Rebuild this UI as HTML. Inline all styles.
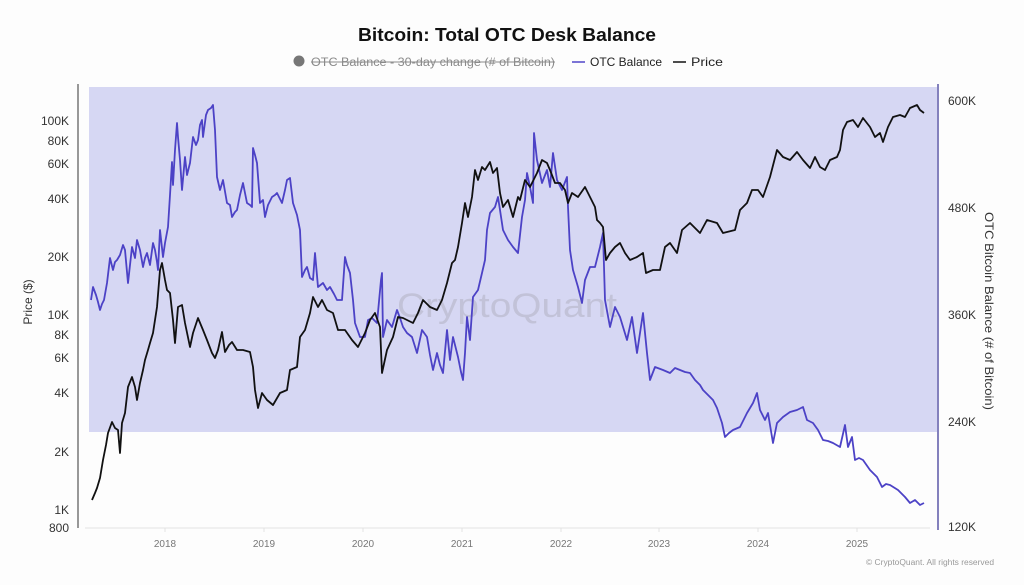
<!DOCTYPE html>
<html>
<head>
<meta charset="utf-8">
<style>
html,body{margin:0;padding:0;background:#fdfdfd;}
svg{display:block;}
text{font-family:"Liberation Sans",Arial,sans-serif;}
</style>
</head>
<body>
<svg width="1024" height="585" viewBox="0 0 1024 585" xmlns="http://www.w3.org/2000/svg">
<rect x="0" y="0" width="1024" height="585" fill="#fdfdfd"/>
<!-- title -->
<text x="507" y="41" font-size="18" font-weight="bold" text-anchor="middle" fill="#111" textLength="298" lengthAdjust="spacingAndGlyphs">Bitcoin: Total OTC Desk Balance</text>
<!-- legend -->
<circle cx="299" cy="61" r="5.5" fill="#777"/>
<text x="311" y="66" font-size="12" fill="#8a8a8a" textLength="244" lengthAdjust="spacingAndGlyphs">OTC Balance - 30-day change (# of Bitcoin)</text>
<line x1="311" y1="62" x2="555" y2="62" stroke="#8a8a8a" stroke-width="1"/>
<line x1="572" y1="62" x2="585" y2="62" stroke="#5046c8" stroke-width="1.5"/>
<text x="590" y="66" font-size="12" fill="#222" textLength="72" lengthAdjust="spacingAndGlyphs">OTC Balance</text>
<line x1="673" y1="62" x2="686" y2="62" stroke="#111" stroke-width="1.5"/>
<text x="691" y="66" font-size="12" fill="#222" textLength="32" lengthAdjust="spacingAndGlyphs">Price</text>

<!-- shaded region -->
<rect x="89" y="87" width="848" height="345" fill="#d6d7f3"/>

<!-- watermark -->
<text x="507" y="317" font-size="34" text-anchor="middle" fill="#b9b9cc" fill-opacity="0.7" textLength="220" lengthAdjust="spacingAndGlyphs">CryptoQuant</text>

<!-- x axis -->
<line x1="85" y1="528" x2="930" y2="528" stroke="#e2e2e2" stroke-width="1"/>
<g stroke="#e2e2e2" stroke-width="1">
<line x1="165" y1="528" x2="165" y2="532"/>
<line x1="264" y1="528" x2="264" y2="532"/>
<line x1="363" y1="528" x2="363" y2="532"/>
<line x1="462" y1="528" x2="462" y2="532"/>
<line x1="561" y1="528" x2="561" y2="532"/>
<line x1="659" y1="528" x2="659" y2="532"/>
<line x1="758" y1="528" x2="758" y2="532"/>
<line x1="857" y1="528" x2="857" y2="532"/>
</g>
<g font-size="10" fill="#777" text-anchor="middle">
<text x="165" y="547">2018</text>
<text x="264" y="547">2019</text>
<text x="363" y="547">2020</text>
<text x="462" y="547">2021</text>
<text x="561" y="547">2022</text>
<text x="659" y="547">2023</text>
<text x="758" y="547">2024</text>
<text x="857" y="547">2025</text>
</g>
<text x="994" y="565" font-size="8" fill="#999" text-anchor="end" textLength="128" lengthAdjust="spacingAndGlyphs">© CryptoQuant. All rights reserved</text>

<!-- left axis -->
<line x1="78" y1="84" x2="78" y2="528" stroke="#555" stroke-width="1.2"/>
<g font-size="12" fill="#333" text-anchor="end">
<text x="69" y="125">100K</text>
<text x="69" y="145">80K</text>
<text x="69" y="168">60K</text>
<text x="69" y="203">40K</text>
<text x="69" y="261">20K</text>
<text x="69" y="319">10K</text>
<text x="69" y="339">8K</text>
<text x="69" y="362">6K</text>
<text x="69" y="397">4K</text>
<text x="69" y="456">2K</text>
<text x="69" y="514">1K</text>
<text x="69" y="532">800</text>
</g>
<text transform="translate(32,302) rotate(-90)" font-size="12" fill="#333" text-anchor="middle">Price ($)</text>

<!-- right axis -->
<line x1="938" y1="84" x2="938" y2="530" stroke="#5c58a8" stroke-width="1.5"/>
<g font-size="12" fill="#333">
<text x="948" y="105">600K</text>
<text x="948" y="212">480K</text>
<text x="948" y="319">360K</text>
<text x="948" y="426">240K</text>
<text x="948" y="531">120K</text>
</g>
<text transform="translate(985,311) rotate(90)" font-size="12" fill="#333" text-anchor="middle" textLength="198" lengthAdjust="spacingAndGlyphs">OTC Bitcoin Balance (# of Bitcoin)</text>

<!-- OTC balance (blue) -->
<polyline fill="none" stroke="#4c42c6" stroke-width="1.8" stroke-linejoin="round" points="91,300 93,287 96,295 98,302 100,310 102,304 104,300 107,283 110,258 113,270 115,262 117,260 120,255 123,245 125,250 128,283 130,265 132,247 135,258 137,240 140,250 143,267 145,258 147,253 150,265 153,243 155,250 157,262 158,270 160,230 163,257 165,243 168,227 170,195 172,162 173,185 175,150 177,123 178,137 180,160 182,190 185,157 187,175 190,163 193,137 196,145 198,140 200,125 202,120 203,137 206,115 208,110 211,108 213,105 215,130 217,177 220,190 223,180 227,203 230,205 232,217 235,212 237,210 240,195 243,183 247,203 250,205 252,207 253,148 255,155 257,163 260,203 263,200 265,217 268,205 272,197 275,195 277,193 282,203 285,190 287,180 290,178 293,203 297,215 300,230 302,277 305,270 307,267 310,278 313,280 315,253 318,287 323,283 327,290 330,287 334,294 337,300 342,300 345,257 347,265 350,273 353,300 355,323 360,337 365,337 368,320 372,318 377,323 381,280 382,273 383,337 387,320 392,327 397,310 400,318 403,327 407,333 412,337 417,353 422,330 427,337 430,355 433,370 437,353 440,365 443,373 447,330 450,360 453,337 458,357 461,372 463,380 465,353 467,317 470,340 473,297 478,290 482,273 485,260 487,230 490,213 495,207 498,197 500,210 503,230 508,240 513,247 518,253 522,217 525,200 527,173 530,187 533,203 534,133 537,160 542,183 547,170 550,187 553,153 557,180 562,190 567,177 568,207 570,250 573,270 578,287 582,303 585,280 590,267 595,267 600,247 603,233 605,300 610,327 615,307 620,317 627,340 632,317 637,353 643,313 647,353 650,380 655,367 663,370 670,373 675,368 680,370 685,372 690,373 695,380 700,385 703,390 708,395 713,400 717,408 720,417 722,423 725,437 729,433 733,430 740,427 747,413 753,403 757,393 760,410 765,420 768,413 773,443 777,423 783,417 790,412 797,410 803,407 807,420 813,423 818,430 823,440 828,441 833,443 840,447 845,425 848,447 852,437 855,460 859,458 863,460 870,470 877,477 882,487 886,484 890,485 898,490 905,497 910,503 915,500 920,505 924,503"/>

<!-- Price (black) -->
<polyline fill="none" stroke="#111" stroke-width="1.8" stroke-linejoin="round" points="92,500 95,493 97,488 100,478 103,460 106,445 108,433 112,422 115,428 118,430 120,453 122,423 125,413 128,387 132,377 135,387 137,400 140,383 143,370 145,360 148,350 150,343 153,333 155,320 157,307 160,270 162,263 165,280 167,290 170,293 173,320 175,343 178,307 182,305 185,323 190,347 193,333 198,318 203,330 207,340 212,353 215,358 218,350 222,332 225,352 229,345 232,342 237,350 243,350 250,352 253,367 255,390 258,408 262,393 267,400 273,405 280,393 287,390 290,370 297,367 300,337 305,330 310,313 313,297 318,307 322,300 327,310 333,313 338,330 345,330 352,340 358,347 365,333 370,320 375,313 380,327 382,373 387,350 393,337 398,317 403,318 407,320 413,323 418,313 423,300 430,307 437,310 442,300 447,283 452,263 455,260 458,247 462,223 465,203 468,217 472,197 475,170 478,180 482,167 485,170 490,162 493,173 497,168 500,193 503,207 508,200 513,217 518,197 520,200 525,180 530,187 537,173 542,160 547,163 550,170 555,183 560,183 565,190 568,203 572,193 578,197 585,187 590,197 595,207 597,220 600,223 603,227 606,260 610,253 615,247 620,243 625,253 630,260 637,257 643,253 646,273 653,270 660,270 665,247 670,243 677,253 682,230 690,223 700,233 707,220 717,223 723,233 735,230 740,210 747,203 752,190 758,190 763,197 770,177 777,150 783,157 790,160 797,152 803,160 810,168 815,157 820,167 825,170 830,160 837,157 840,150 843,130 847,122 853,120 858,127 863,118 870,127 875,137 880,133 883,142 888,127 893,117 900,115 905,117 910,108 917,105 920,110 924,113"/>
</svg>
</body>
</html>
